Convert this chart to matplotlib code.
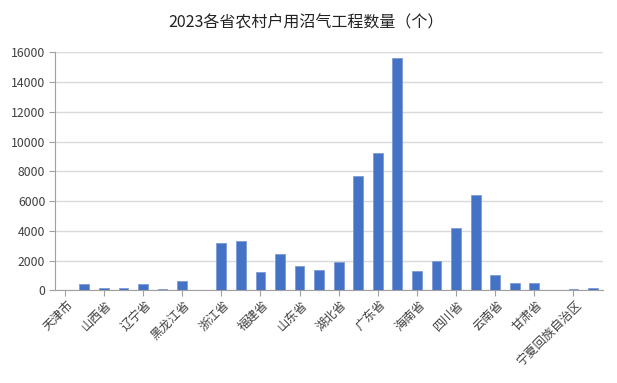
import matplotlib.pyplot as plt
import matplotlib.transforms as mtransforms

plt.rcParams['font.family'] = ['Noto Sans CJK SC', 'DejaVu Sans']

# 各省农村户用沼气工程数量（个）
provinces = ['天津市', '河北省', '山西省', '内蒙古自治区', '辽宁省', '吉林省', '黑龙江省',
             '上海市', '浙江省', '安徽省', '福建省', '江西省', '山东省', '河南省',
             '湖北省', '湖南省', '广东省', '广西壮族自治区', '海南省', '重庆市', '四川省',
             '贵州省', '云南省', '陕西省', '甘肃省', '青海省', '宁夏回族自治区', '新疆维吾尔自治区']
counts = [20, 430, 140, 150, 400, 70, 630,
          25, 3180, 3320, 1230, 2420, 1610, 1370,
          1880, 7690, 9215, 15600, 1300, 1950, 4170,
          6410, 1030, 490, 470, 0, 90, 160]
yticks = list(range(0, 16001, 2000))

fig = plt.figure(figsize=(6.17, 3.83), dpi=100)
ax = fig.add_axes([0.0891, 0.242, 0.8879, 0.6214])

x = list(range(len(provinces)))
ax.bar(x, counts, width=0.5, color='#4472C4', edgecolor='#7f9ad6', linewidth=0.6, zorder=3)

ax.set_xlim(-0.5, len(provinces) - 0.5)
ax.set_ylim(0, 16000)
ax.set_yticks(yticks)
ax.set_yticklabels([str(v) for v in yticks], fontsize=8.8, color='#404040')
ax.yaxis.grid(True, color='#d9d9d9', linewidth=1, zorder=0)

ax.set_xticks(x[::2])
ax.set_xticklabels(provinces[::2], rotation=45, ha='right', va='center',
                   rotation_mode='anchor', fontsize=8.8, color='#404040')
ax.tick_params(axis='x', length=4, color='#a0a0a0', pad=5)
ax.tick_params(axis='y', length=4, color='#a0a0a0', pad=3)

# 标签整体向右挪一点
shift = mtransforms.ScaledTranslation(6 / 100, 0, fig.dpi_scale_trans)
for lbl in ax.get_xticklabels():
    lbl.set_transform(lbl.get_transform() + shift)

for s in ['top', 'right']:
    ax.spines[s].set_visible(False)
for s in ['left', 'bottom']:
    ax.spines[s].set_color('#a0a0a0')

fig.text(0.496, 0.94, '2023各省农村户用沼气工程数量（个）', ha='center', va='center',
         fontsize=11.5, color='#222222')

fig.savefig('out.png', dpi=100)
